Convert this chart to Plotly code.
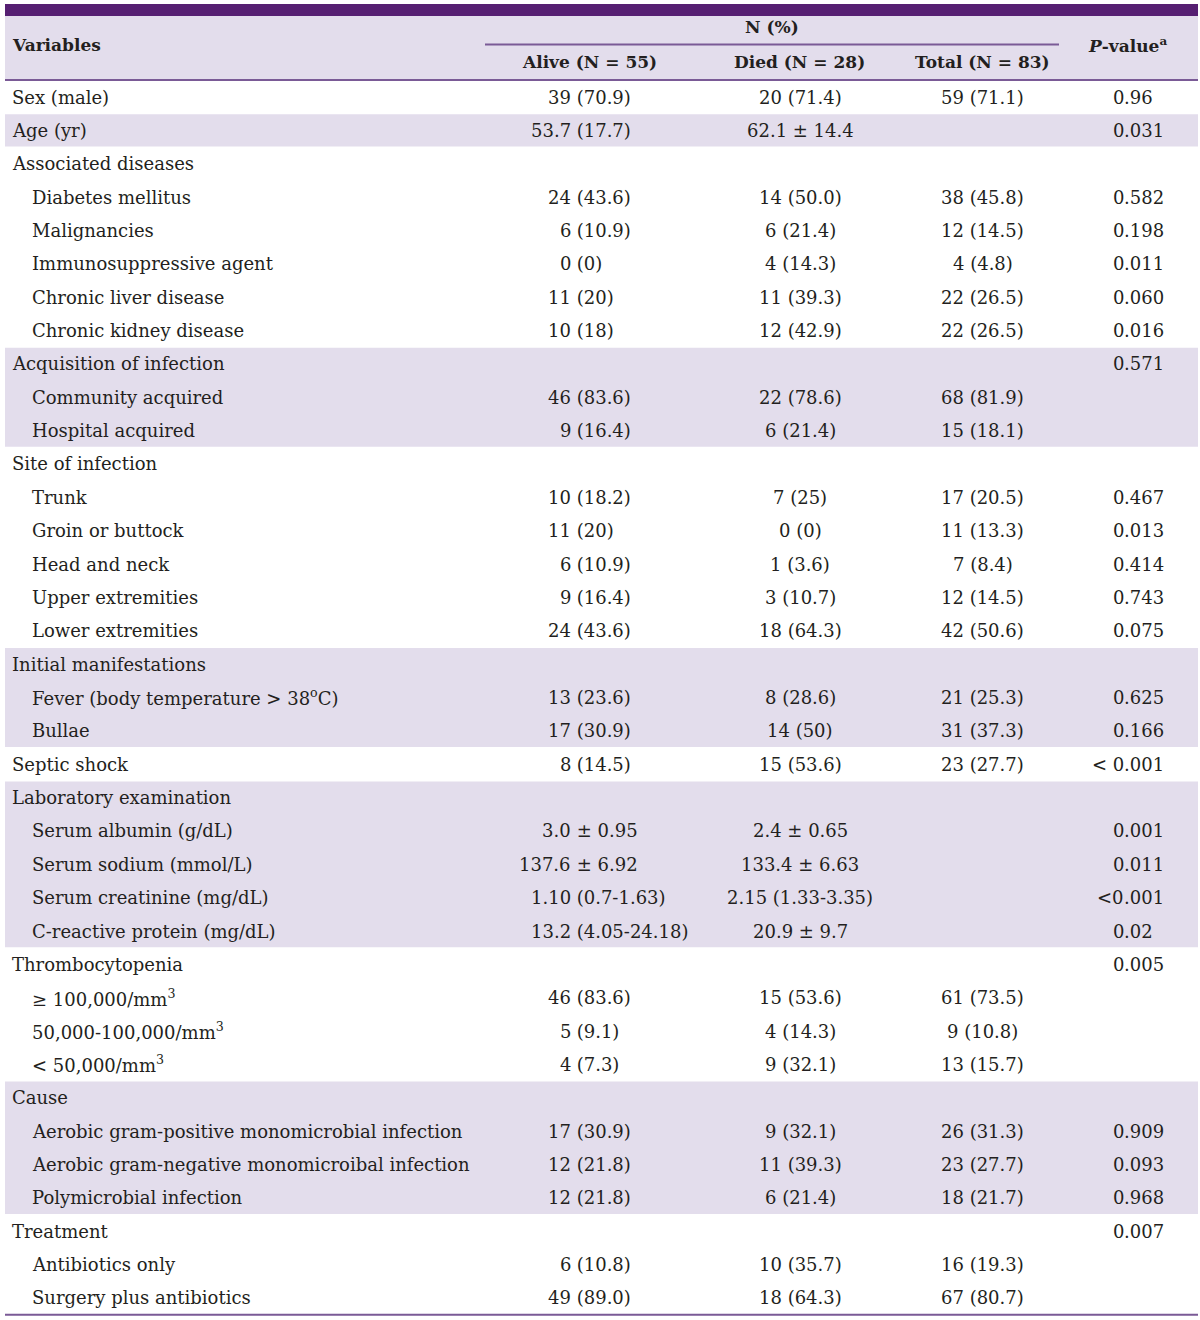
import plotly.graph_objects as go

variables = [
    "Sex (male)", "Age (yr)", "Associated diseases", "Diabetes mellitus", "Malignancies",
    "Immunosuppressive agent", "Chronic liver disease", "Chronic kidney disease",
    "Acquisition of infection", "Community acquired", "Hospital acquired",
    "Site of infection", "Trunk", "Groin or buttock", "Head and neck", "Upper extremities",
    "Lower extremities", "Initial manifestations", "Fever (body temperature > 38<sup>o</sup>C)",
    "Bullae", "Septic shock", "Laboratory examination", "Serum albumin (g/dL)",
    "Serum sodium (mmol/L)", "Serum creatinine (mg/dL)", "C-reactive protein (mg/dL)",
    "Thrombocytopenia", "≥ 100,000/mm<sup>3</sup>", "50,000-100,000/mm<sup>3</sup>",
    "< 50,000/mm<sup>3</sup>", "Cause", "Aerobic gram-positive monomicrobial infection",
    "Aerobic gram-negative monomicroibal infection", "Polymicrobial infection",
    "Treatment", "Antibiotics only", "Surgery plus antibiotics",
]
levels = [0, 0, 0, 1, 1, 1, 1, 1, 0, 1, 1, 0, 1, 1, 1, 1, 1, 0, 1, 1, 0, 0, 1, 1, 1, 1,
          0, 1, 1, 1, 0, 1, 1, 1, 0, 1, 1]
groups = [0, 1, 2, 2, 2, 2, 2, 2, 3, 3, 3, 4, 4, 4, 4, 4, 4, 5, 5, 5, 6, 7, 7, 7, 7, 7,
          8, 8, 8, 8, 9, 9, 9, 9, 10, 10, 10]
alive = ["39 (70.9)", "53.7 (17.7)", "", "24 (43.6)", "6 (10.9)", "0 (0)", "11 (20)", "10 (18)",
         "", "46 (83.6)", "9 (16.4)", "", "10 (18.2)", "11 (20)", "6 (10.9)", "9 (16.4)",
         "24 (43.6)", "", "13 (23.6)", "17 (30.9)", "8 (14.5)", "", "3.0 ± 0.95",
         "137.6 ± 6.92", "1.10 (0.7-1.63)", "13.2 (4.05-24.18)", "", "46 (83.6)", "5 (9.1)",
         "4 (7.3)", "", "17 (30.9)", "12 (21.8)", "12 (21.8)", "", "6 (10.8)", "49 (89.0)"]
died = ["20 (71.4)", "62.1 ± 14.4", "", "14 (50.0)", "6 (21.4)", "4 (14.3)", "11 (39.3)",
        "12 (42.9)", "", "22 (78.6)", "6 (21.4)", "", "7 (25)", "0 (0)", "1 (3.6)", "3 (10.7)",
        "18 (64.3)", "", "8 (28.6)", "14 (50)", "15 (53.6)", "", "2.4 ± 0.65", "133.4 ± 6.63",
        "2.15 (1.33-3.35)", "20.9 ± 9.7", "", "15 (53.6)", "4 (14.3)", "9 (32.1)", "",
        "9 (32.1)", "11 (39.3)", "6 (21.4)", "", "10 (35.7)", "18 (64.3)"]
total = ["59 (71.1)", "", "", "38 (45.8)", "12 (14.5)", "4 (4.8)", "22 (26.5)", "22 (26.5)",
         "", "68 (81.9)", "15 (18.1)", "", "17 (20.5)", "11 (13.3)", "7 (8.4)", "12 (14.5)",
         "42 (50.6)", "", "21 (25.3)", "31 (37.3)", "23 (27.7)", "", "", "", "", "", "",
         "61 (73.5)", "9 (10.8)", "13 (15.7)", "", "26 (31.3)", "23 (27.7)", "18 (21.7)", "",
         "16 (19.3)", "67 (80.7)"]
pvalue = ["0.96", "0.031", "", "0.582", "0.198", "0.011", "0.060", "0.016", "0.571", "", "",
          "", "0.467", "0.013", "0.414", "0.743", "0.075", "", "0.625", "0.166", "< 0.001", "",
          "0.001", "0.011", "<0.001", "0.02", "0.005", "", "", "", "", "0.909", "0.093",
          "0.968", "0.007", "", ""]
col_headers = ["Alive (N = 55)", "Died (N = 28)", "Total (N = 83)"]

# ---- layout constants ----
W, H = 1200, 1320
X0, X1 = 5, 1198
FIRST_Y, PITCH = 97, 33.36
FONT = "DejaVu Serif"
FS = 18
HFS = 17
TXT = "#231f20"
PURPLE = "#561f72"
LINE = "#7a5a96"
SHADE = "#e3ddec"

fig = go.Figure()
shapes = []
ann = []

def row_y(i):
    return FIRST_Y + PITCH * i

# header
shapes.append(dict(type="rect", x0=X0, x1=X1, y0=16, y1=80, fillcolor=SHADE, line_width=0, layer="below"))
shapes.append(dict(type="rect", x0=X0, x1=X1, y0=4, y1=16, fillcolor=PURPLE, line_width=0))
shapes.append(dict(type="line", x0=485, x1=1059, y0=44.5, y1=44.5, line=dict(color=LINE, width=2)))
shapes.append(dict(type="line", x0=X0, x1=X1, y0=80, y1=80, line=dict(color=LINE, width=2)))

# shaded bands (alternate groups)
n = len(variables)
i = 0
while i < n:
    g = groups[i]
    j = i
    while j + 1 < n and groups[j + 1] == g:
        j += 1
    if g % 2 == 1:
        shapes.append(dict(type="rect", x0=X0, x1=X1, y0=row_y(i) - PITCH / 2 + 0.5,
                           y1=row_y(j) + PITCH / 2 - 0.5, fillcolor=SHADE, line_width=0, layer="below"))
    i = j + 1

shapes.append(dict(type="line", x0=X0, x1=X1, y0=row_y(n - 1) + PITCH / 2,
                   y1=row_y(n - 1) + PITCH / 2, line=dict(color=LINE, width=2)))

def text(x, y, s, anchor="left", bold=False, size=FS):
    if bold:
        s = "<b>" + s + "</b>"
    ann.append(dict(x=x, y=y, text=s, xanchor=anchor, yanchor="middle", showarrow=False,
                    borderpad=0, borderwidth=0,
                    font=dict(family=FONT, size=size, color=TXT), xref="x", yref="y"))

# header text
text(12, 45, "Variables", bold=True, size=HFS)
text(772, 27, "N (%)", anchor="center", bold=True, size=HFS)
for x, h in zip([589, 799, 982], col_headers):
    text(x, 62, h, anchor="center", bold=True, size=HFS)
text(1127, 45, "<b><i>P</i>-value<sup>a</sup></b>", anchor="center", size=HFS)

ALIVE_SPLIT = 571
DIED_C = 800
TOTAL_C = 982.5
P_DOT = 1124

for k in range(n):
    y = row_y(k)
    text(12 if levels[k] == 0 else 32, y, variables[k])
    a = alive[k]
    if a:
        first, rest = a.split(" ", 1)
        text(ALIVE_SPLIT, y, first, anchor="right")
        text(ALIVE_SPLIT, y, "\u00a0" + rest, anchor="left")
    if died[k]:
        text(DIED_C, y, died[k], anchor="center")
    if total[k]:
        text(TOTAL_C, y, total[k], anchor="center")
    p = pvalue[k]
    if p:
        left, right = p.split(".", 1)
        text(P_DOT, y, left.replace(" ", "\u00a0"), anchor="right")
        text(P_DOT, y, "." + right, anchor="left")

fig.update_layout(
    width=W, height=H, margin=dict(l=0, r=0, t=0, b=0),
    paper_bgcolor="white", plot_bgcolor="white",
    xaxis=dict(range=[0, W], visible=False, fixedrange=True),
    yaxis=dict(range=[H, 0], visible=False, fixedrange=True),
    shapes=shapes, annotations=ann, showlegend=False,
)
fig.write_html(
    "out.html",
    config={"displayModeBar": False},
    post_script="document.body.style.margin='0px';document.documentElement.style.overflow='hidden';",
)
